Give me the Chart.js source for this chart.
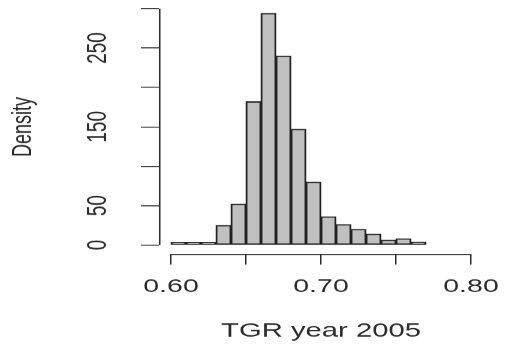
<!DOCTYPE html>
<html>
<head>
<meta charset="utf-8">
<script src="https://cdn.jsdelivr.net/npm/chart.js@4.4.0/dist/chart.umd.min.js"></script>
<style>
  html, body { margin: 0; padding: 0; background: #fff; }
  #chart { display: block; }
</style>
</head>
<body>
<!-- drawn at 339 wide, stretched to 508 like the reference -->
<canvas id="chart" width="339" height="350" style="width:508px;height:350px"></canvas>
<script>
// histogram breaks and densities
const breaks = [0.60, 0.61, 0.62, 0.63, 0.64, 0.65, 0.66, 0.67, 0.68, 0.69,
                0.70, 0.71, 0.72, 0.73, 0.74, 0.75, 0.76, 0.77];
const density = [3.4, 3.4, 3.4, 25, 52, 182, 294, 240, 147, 80,
                 36, 26, 20, 14, 6.3, 8, 3.8];

const xTicks = [0.60, 0.65, 0.70, 0.75, 0.80];
const xLabels = [0.60, 0.70, 0.80];
const yTicks = [0, 50, 100, 150, 200, 250, 300];
const yLabels = [0, 50, 150, 250];

const xTitle = 'TGR year 2005';
const yTitle = 'Density';

const ink = '#2b2b2b';
const fontFamily = "'Liberation Sans', Arial, sans-serif";

// bar centres from the breaks
const bars = density.map((d, i) => ({ x: (breaks[i] + breaks[i + 1]) / 2, y: d }));

// R draws its axis lines only from first to last tick
const axisLines = {
    id: 'axisLines',
    afterDraw(chart) {
        const { ctx, chartArea, scales } = chart;
        const x = scales.x, y = scales.y;
        ctx.save();
        ctx.strokeStyle = ink;
        ctx.lineWidth = 1;
        ctx.beginPath();
        const by = Math.round(chartArea.bottom) + 0.5;
        ctx.moveTo(x.getPixelForValue(xTicks[0]), by);
        ctx.lineTo(x.getPixelForValue(xTicks[xTicks.length - 1]), by);
        const lx = Math.round(chartArea.left) + 0.5;
        ctx.moveTo(lx, y.getPixelForValue(yTicks[0]));
        ctx.lineTo(lx, y.getPixelForValue(yTicks[yTicks.length - 1]));
        ctx.stroke();
        ctx.restore();
    }
};

new Chart(document.getElementById('chart'), {
    type: 'bar',
    data: {
        datasets: [{
            data: bars,
            backgroundColor: '#c0c0c0',
            borderColor: '#222',
            borderWidth: 1.3,
            borderSkipped: false,
            barPercentage: 1,
            categoryPercentage: 1
        }]
    },
    options: {
        responsive: false,
        animation: false,
        devicePixelRatio: 1.5,
        layout: { padding: { left: 0, right: 17, top: 0, bottom: 0 } },
        plugins: { legend: { display: false }, tooltip: { enabled: false } },
        scales: {
            x: {
                type: 'linear',
                min: 0.592,
                max: 0.808,
                offset: false,
                border: { display: false },
                grid: { offset: false, drawOnChartArea: false, drawTicks: true, tickLength: 10.5, color: ink, lineWidth: 1 },
                afterBuildTicks: s => { s.ticks = xTicks.map(v => ({ value: v })); },
                afterFit: s => { s.height = 96; s.paddingLeft = 0; s.paddingRight = 0; },
                ticks: {
                    autoSkip: false,
                    maxRotation: 0,
                    padding: 11,
                    color: ink,
                    font: { family: fontFamily, size: 19 },
                    callback: v => xLabels.some(l => Math.abs(l - v) < 1e-9) ? v.toFixed(2) : ''
                },
                title: {
                    display: true,
                    text: xTitle,
                    color: ink,
                    font: { family: fontFamily, size: 19.5 },
                    padding: { top: 0, bottom: 7 }
                }
            },
            y: {
                min: -11.4,
                max: 311,
                border: { display: false },
                grid: { drawOnChartArea: false, drawTicks: true, tickLength: 12, color: ink, lineWidth: 1 },
                afterBuildTicks: s => { s.ticks = yTicks.map(v => ({ value: v })); },
                afterFit: s => { s.width = 106; s.paddingTop = 0; s.paddingBottom = 0; },
                ticks: {
                    autoSkip: false,
                    minRotation: 90,
                    maxRotation: 90,
                    crossAlign: 'center',
                    padding: 12.7,
                    color: ink,
                    font: { family: fontFamily, size: 19 },
                    callback: v => yLabels.includes(v) ? String(v) : ''
                },
                title: {
                    display: true,
                    text: yTitle,
                    color: ink,
                    font: { family: fontFamily, size: 18 },
                    padding: { top: 5, bottom: 0 }
                }
            }
        }
    },
    plugins: [axisLines]
});
</script>
</body>
</html>
